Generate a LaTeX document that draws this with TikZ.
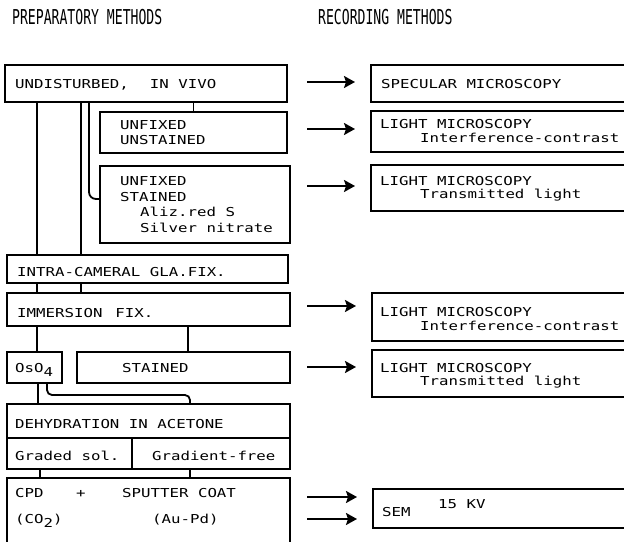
\documentclass[tikz,border=0pt]{standalone}
\usepackage{fontspec}
\usetikzlibrary{arrows.meta,calc}
\newfontfamily\typew[FakeStretch=1.28]{DejaVu Sans Mono}
\newfontfamily\headw[FakeStretch=0.64]{DejaVu Sans Mono}
\begin{document}
\begin{tikzpicture}[x=1pt,y=-1pt,
  box/.style={draw, line width=1.3pt, inner sep=0pt, outer sep=0pt, anchor=north west},
  txt/.style={inner sep=0pt, anchor=base west, font=\typew\fontsize{12.3}{14}\selectfont},
  hdr/.style={inner sep=0pt, anchor=base west, font=\headw\fontsize{20.5}{24}\selectfont},
  conn/.style={line width=1.8pt},
  arr/.style={line width=2pt, -{Stealth[length=11pt,width=12pt,inset=2pt]}, shorten >=16pt},
]
\useasboundingbox (0,0) rectangle (624,541);
\clip (0,0) rectangle (624,541);

% column headings
\node[hdr] (hleft) at (12,24) {PREPARATORY METHODS};
\node[hdr] (hright) at (318,24) {RECORDING METHODS};

% preparatory boxes
\node[box, minimum width=282pt, minimum height=37pt] (undist) at (5,65) {};
\node[box, minimum width=187pt, minimum height=41pt] (unst) at (100,112) {};
\node[box, minimum width=190pt, minimum height=77pt] (stn) at (100,166) {};
\node[box, minimum width=281pt, minimum height=28pt] (intra) at (7,255) {};
\node[box, minimum width=283pt, minimum height=33pt] (immer) at (7,293) {};
\node[box, minimum width=55pt, minimum height=31pt] (oso) at (7,352) {};
\node[box, minimum width=213pt, minimum height=31pt] (stn2) at (77,352) {};
\node[box, minimum width=283pt, minimum height=34pt] (dehyd) at (7,404) {};
\node[box, minimum width=125pt, minimum height=31pt] (graded) at (7,438) {};
\node[box, minimum width=158pt, minimum height=31pt] (gfree) at (132,438) {};
\node[box, minimum width=283pt, minimum height=75pt] (cpd) at (7,478) {};

% recording boxes
\node[box, minimum width=270pt, minimum height=37pt] (spec) at (371,65) {};
\node[box, minimum width=270pt, minimum height=41pt] (lm1) at (371,111) {};
\node[box, minimum width=270pt, minimum height=46pt] (lm2) at (371,165) {};
\node[box, minimum width=270pt, minimum height=48pt] (lm3) at (372,293) {};
\node[box, minimum width=270pt, minimum height=47pt] (lm4) at (372,350) {};
\node[box, minimum width=270pt, minimum height=39pt] (sem) at (373,489) {};

% texts, preparatory side
\node[txt] (t-undist) at (15,88) {UNDISTURBED,\hspace{21pt}IN VIVO};
\node[txt] (t-unst1) at (120,129) {UNFIXED};
\node[txt] (t-unst2) at (120,144) {UNSTAINED};
\node[txt] (t-stn1) at (120,185) {UNFIXED};
\node[txt] (t-stn2) at (120,201) {STAINED};
\node[txt] (t-stn3) at (140,216) {Aliz.red S};
\node[txt] (t-stn4) at (140,232) {Silver nitrate};
\node[txt] (t-intra) at (17,276) {INTRA-CAMERAL GLA.FIX.};
\node[txt] (t-immer) at (17,317) {IMMERSION\hspace{13pt}FIX.};
\node[txt] (t-oso) at (15,372) {OsO\raisebox{-4pt}{4}};
\node[txt] (t-stn5) at (122,372) {STAINED};
\node[txt] (t-dehyd) at (15,428) {DEHYDRATION IN ACETONE};
\node[txt] (t-graded) at (15,460) {Graded sol.};
\node[txt] (t-gfree) at (152,460) {Gradient-free};
\node[txt] (t-cpd) at (15,497) {CPD};
\node[txt] (t-plus) at (76,497) {+};
\node[txt] (t-sput) at (122,497) {SPUTTER COAT};
\node[txt] (t-co2) at (15,523) {(CO\raisebox{-4pt}{2})};
\node[txt] (t-aupd) at (152,523) {(Au-Pd)};

% texts, recording side
\node[txt] (t-spec) at (381,88) {SPECULAR MICROSCOPY};
\node[txt] (t-lm1a) at (380,128) {LIGHT MICROSCOPY};
\node[txt] (t-lm1b) at (420,142) {Interference-contrast};
\node[txt] (t-lm2a) at (380,185) {LIGHT MICROSCOPY};
\node[txt] (t-lm2b) at (420,198) {Transmitted light};
\node[txt] (t-lm3a) at (380,316) {LIGHT MICROSCOPY};
\node[txt] (t-lm3b) at (420,330) {Interference-contrast};
\node[txt] (t-lm4a) at (380,372) {LIGHT MICROSCOPY};
\node[txt] (t-lm4b) at (420,385) {Transmitted light};
\node[txt] (t-sem) at (382,516) {SEM};
\node[txt] (t-kv) at (438,508) {15 KV};

% connectors between preparatory steps
\draw[conn] ([xshift=32pt]undist.south west) -- ([xshift=30pt]intra.north west);
\draw[conn] ([xshift=76pt]undist.south west) -- ([xshift=74pt]intra.north west);
\draw[conn, rounded corners=7pt] ([xshift=84pt]undist.south west) |- ([yshift=5.5pt]stn.west);
\draw[conn] (unst.north |- undist.south) -- (unst.north);
\draw[conn] ([xshift=30pt]intra.south west) -- ([xshift=30pt]immer.north west);
\draw[conn] ([xshift=74pt]intra.south west) -- ([xshift=74pt]immer.north west);
\draw[conn] ([xshift=30pt]immer.south west) -- ([xshift=30pt]oso.north west);
\draw[conn] ([xshift=4.5pt]stn2.north |- immer.south) -- ([xshift=4.5pt]stn2.north);
\draw[conn] ([xshift=31pt]oso.south west) -- ([xshift=31pt]dehyd.north west);
\draw[conn, rounded corners=5pt] ([xshift=40pt]oso.south west) |- ([xshift=183pt,yshift=9pt]dehyd.north west) -- ([xshift=183pt]dehyd.north west);
\draw[conn] ([xshift=33pt]graded.south west) -- ([xshift=33pt]cpd.north west);
\draw[conn] ([xshift=58pt]gfree.south west) -- ([xshift=58pt]gfree.south west |- cpd.north);

% arrows to recording methods
\coordinate (a1) at ([xshift=20pt,yshift=1.5pt]undist.east);
\coordinate (a2) at ([xshift=20pt,yshift=3.5pt]unst.east);
\coordinate (a3) at ([xshift=17pt,yshift=18.5pt]stn.east);
\coordinate (a4) at ([xshift=17pt,yshift=3.5pt]immer.east);
\coordinate (a5) at ([xshift=17pt,yshift=0.5pt]stn2.east);
\coordinate (a6) at ([xshift=17pt,yshift=18.5pt]cpd.east);
\coordinate (a7) at ([xshift=17pt,yshift=-3.5pt]cpd.east);
\draw[arr] (a1) -- (spec.west |- a1);
\draw[arr] (a2) -- (lm1.west |- a2);
\draw[arr] (a3) -- (lm2.west |- a3);
\draw[arr] (a4) -- (lm3.west |- a4);
\draw[arr] (a5) -- (lm4.west |- a5);
\draw[arr] (a6) -- (sem.west |- a6);
\draw[arr] (a7) -- (sem.west |- a7);
\end{tikzpicture}
\end{document}
